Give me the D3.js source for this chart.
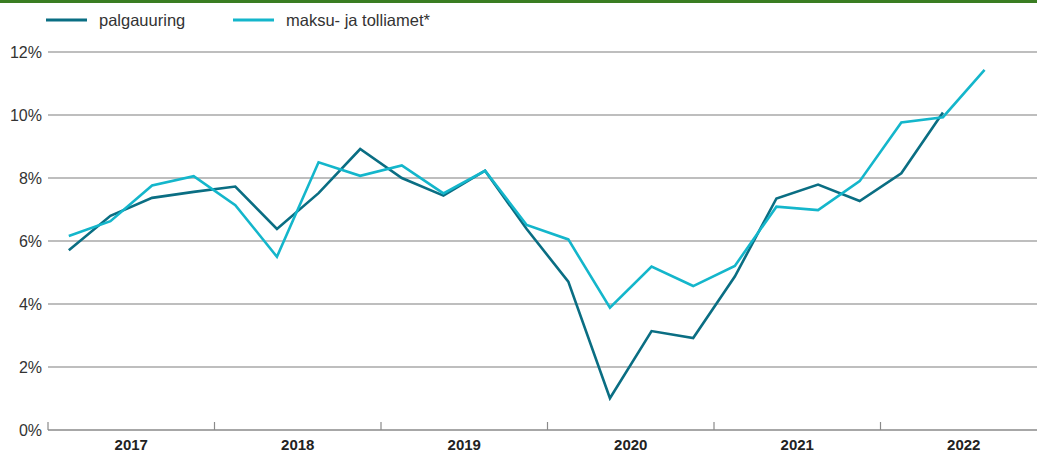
<!DOCTYPE html>
<html><head><meta charset="utf-8">
<script src="https://cdn.jsdelivr.net/npm/d3@7"></script>
<style>body{margin:0;background:#fff;font-family:"Helvetica Neue",Arial,"Liberation Sans",sans-serif;}</style>
</head><body>
<svg id="chart" width="1037" height="453"></svg>
<script>
const years = ["2017","2018","2019","2020","2021","2022"];
const quarters = ["Q1","Q2","Q3","Q4"];
const periods = years.flatMap(y => quarters.map(q => y + " " + q));
const palgauuring = [5.71,6.80,7.37,7.56,7.73,6.38,7.52,8.92,8.00,7.44,8.23,6.38,4.71,1.01,3.14,2.92,4.87,7.35,7.79,7.27,8.15,10.08];
const maksuJaTolliamet = [6.16,6.63,7.76,8.06,7.14,5.50,8.50,8.07,8.40,7.51,8.23,6.51,6.05,3.88,5.19,4.57,5.21,7.09,6.98,7.90,9.76,9.93,11.43];
const yTicks = [0,2,4,6,8,10,12];
const seriesNames = ["palgauuring","maksu- ja tolliamet*"];
const colors = ["#0a6e83","#14b6cb"];

const svg = d3.select("#chart");
const W = 1037, H = 453;
const m = {left:48, right:0, top:52, bottom:23};
const x = d3.scaleBand().domain(periods).range([m.left, m.left + 6*166.5]);
const xYear = d3.scaleBand().domain(years).range([m.left, m.left + 6*166.5]);
const y = d3.scaleLinear().domain([0,12]).range([H - m.bottom, m.top]);

svg.append("rect").attr("x",0).attr("y",0).attr("width",W).attr("height",3).attr("fill","#3a7d22");

// gridlines
svg.append("g").selectAll("line").data(yTicks.filter(d=>d>0)).join("line")
  .attr("x1", m.left).attr("x2", W).attr("y1", d=>y(d)).attr("y2", d=>y(d))
  .attr("stroke","#a8a8a8").attr("stroke-width",1.3);

// y labels
svg.append("g").selectAll("text").data(yTicks).join("text")
  .attr("x", 42).attr("y", d=>y(d)+5.5).attr("text-anchor","end")
  .attr("font-size",16).attr("fill","#333").text(d=>d+"%");

// x axis
const xAxis = d3.axisBottom(xYear).tickSize(0).tickPadding(9);
const gx = svg.append("g").attr("transform",`translate(0,${y(0)})`).call(xAxis);
gx.select(".domain").remove();
gx.selectAll("text").attr("font-size",15).attr("font-weight","bold").attr("fill","#222")
  .attr("font-family","\"Helvetica Neue\",Arial,\"Liberation Sans\",sans-serif");
svg.append("line").attr("x1",m.left).attr("x2",W).attr("y1",y(0)).attr("y2",y(0))
  .attr("stroke","#8a8a8a").attr("stroke-width",1.3);
svg.append("g").selectAll("line").data(years).join("line")
  .attr("x1",d=>xYear(d)).attr("x2",d=>xYear(d)).attr("y1",y(0)-8).attr("y2",y(0))
  .attr("stroke","#8a8a8a").attr("stroke-width",1.2);

// lines
const line = d3.line().x((d,i)=>x(periods[i]) + x.bandwidth()/2).y(d=>y(d));
[palgauuring, maksuJaTolliamet].forEach((s,i)=>{
  svg.append("path").datum(s).attr("d",line).attr("fill","none")
    .attr("stroke",colors[i]).attr("stroke-width",2.6).attr("stroke-linejoin","miter");
});

// legend
const legX = [46, 233];
seriesNames.forEach((n,i)=>{
  svg.append("line").attr("x1",legX[i]).attr("x2",legX[i]+41).attr("y1",20).attr("y2",20)
    .attr("stroke",colors[i]).attr("stroke-width",3);
  svg.append("text").attr("x",legX[i]+53).attr("y",25.5).attr("font-size",16.5).attr("fill","#333").text(n);
});
</script>
</body></html>
